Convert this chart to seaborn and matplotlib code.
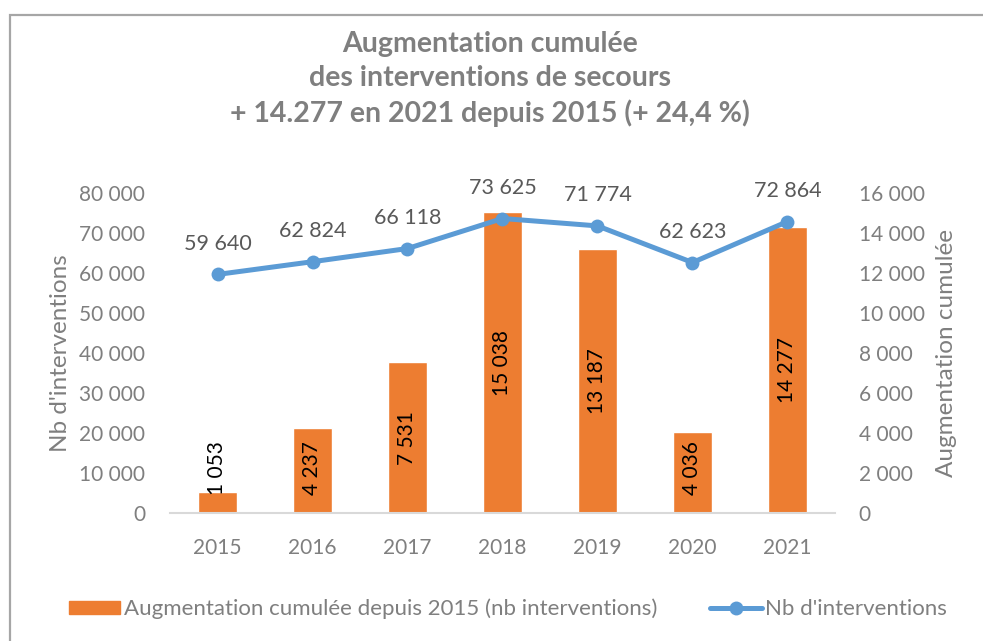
import matplotlib
matplotlib.use("Agg")
import matplotlib.pyplot as plt
import seaborn as sns
import pandas as pd
from matplotlib.patches import Rectangle
from matplotlib.lines import Line2D
from matplotlib.ticker import FuncFormatter

years = ["2015", "2016", "2017", "2018", "2019", "2020", "2021"]
interventions = [59640, 62824, 66118, 73625, 71774, 62623, 72864]
augmentation = [1053, 4237, 7531, 15038, 13187, 4036, 14277]
left_ticks = [0, 10000, 20000, 30000, 40000, 50000, 60000, 70000, 80000]
right_ticks = [0, 2000, 4000, 6000, 8000, 10000, 12000, 14000, 16000]

title = "Augmentation cumulée\ndes interventions de secours\n+ 14.277 en 2021 depuis 2015 (+ 24,4 %)"
bar_label = "Augmentation cumulée depuis 2015 (nb interventions)"
line_label = "Nb d'interventions"

df = pd.DataFrame({"year": years, "interventions": interventions, "augmentation": augmentation})

sns.set_theme(style="white")
plt.rcParams["font.family"] = ["Lato", "DejaVu Sans"]

ORANGE = "#ED7D31"
BLUE = "#5B9BD5"
TICK = "#7F7F7F"
LABEL = "#595959"

fig = plt.figure(figsize=(9.83, 6.41), dpi=100)
W, H = 983, 641
ax = fig.add_axes([170 / W, 1 - 513 / H, (835 - 170) / W, (513 - 193) / H])
ax2 = ax.twinx()

# bars on the right axis
sns.barplot(data=df, x="year", y="augmentation", ax=ax2, color=ORANGE, width=0.42,
            saturation=1, zorder=1)
ax2.set_ylim(0, 16000)
ax2.set_yticks(right_ticks)

# line on the left axis, drawn above bars
ax.set_zorder(ax2.get_zorder() + 1)
ax.patch.set_visible(False)
sns.lineplot(data=df, x="year", y="interventions", ax=ax, color=BLUE, linewidth=3.6,
             marker="o", markersize=10, markeredgewidth=0, sort=False)
ax.set_ylim(0, 80000)
ax.set_yticks(left_ticks)
ax.set_xlim(-0.5, 6.5)

fmt = FuncFormatter(lambda v, p: f"{int(v):,}".replace(",", " "))
ax.yaxis.set_major_formatter(fmt)
ax2.yaxis.set_major_formatter(fmt)

for a in (ax, ax2):
    for s in a.spines.values():
        s.set_visible(False)
    a.tick_params(axis="both", length=0, colors=TICK, labelsize=15)
ax.spines["bottom"].set_visible(True)
ax.spines["bottom"].set_color("#D9D9D9")
ax.spines["bottom"].set_linewidth(1.5)
ax.tick_params(axis="x", pad=18)
ax.tick_params(axis="y", pad=18)
ax2.tick_params(axis="y", pad=17)
ax2.set_xlabel("")
ax.set_xlabel("")
ax.set_ylabel("Nb d'interventions", color=TICK, fontsize=17.5, labelpad=6)
ax2.set_ylabel("Augmentation cumulée", color=TICK, fontsize=17.5, labelpad=8)

# line data labels
for i, v in enumerate(interventions):
    ax.annotate(f"{v:,}".replace(",", " "), (i, v), xytext=(0, 22), textcoords="offset points",
                ha="center", va="center", fontsize=15.5, color=LABEL)

# bar data labels
for i, v in enumerate(augmentation):
    ax2.text(i, max(v / 2, 2250), f"{v:,}".replace(",", " "), rotation=90, ha="center",
             va="center", fontsize=15, color="black", zorder=5)

fig.text(490 / W, 1 - 79 / H, title, ha="center", va="center", fontsize=20.5,
         fontweight="bold", color="#7F7F7F", linespacing=1.38)

handles = [Rectangle((0, 0), 1, 1, color=ORANGE),
           Line2D([0], [0], color=BLUE, linewidth=3.6, marker="o", markersize=10,
                  markeredgewidth=0)]
fig.legend(handles, [bar_label, line_label], loc="center", bbox_to_anchor=(508 / W, 1 - 609 / H),
           ncol=2, frameon=False, fontsize=16, labelcolor=TICK, handlelength=2.3,
           handleheight=0.55, handletextpad=0.15, columnspacing=2.4)

# outer frame
fig.add_artist(Rectangle((10 / W, -0.1), 1.2, 1 - 15 / H + 0.1, transform=fig.transFigure,
                         fill=False, edgecolor="#A6A6A6", linewidth=1.6))

fig.savefig("out.png", dpi=100)
